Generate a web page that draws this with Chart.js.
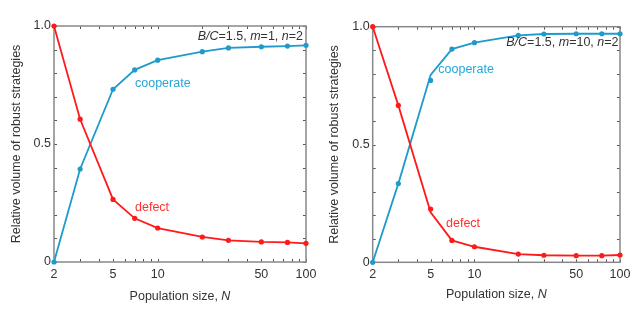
<!DOCTYPE html>
<html><head><meta charset="utf-8">
<script src="https://cdn.jsdelivr.net/npm/chart.js@4/dist/chart.umd.min.js"></script>
<style>
html,body{margin:0;padding:0;background:#fff;}
#wrap{position:relative;width:636px;height:315px;overflow:hidden;}
.panel{position:absolute;top:0;width:318px;height:315px;}
</style></head><body>
<div id="wrap">
<div class="panel" style="left:0"><canvas id="c1" width="318" height="315"></canvas></div>
<div class="panel" style="left:318px"><canvas id="c2" width="318" height="315"></canvas></div>
</div>
<script>
// ---- data ----
const populationSizes = [2, 3, 5, 7, 10, 20, 30, 50, 75, 100];

// panel 1: B/C=1.5, m=1, n=2
const cooperateM1 = [0, 0.394, 0.732, 0.814, 0.855, 0.891, 0.907, 0.912, 0.915, 0.918];
const defectM1    = [1.0, 0.605, 0.265, 0.185, 0.144, 0.106, 0.092, 0.085, 0.083, 0.079];

// panel 2: B/C=1.5, m=10, n=2 (line and markers differ slightly at N=5)
const cooperateM10Points = [0, 0.334, 0.772, 0.905, 0.932, 0.963, 0.969, 0.970, 0.970, 0.970];
const cooperateM10Line   = [0, 0.334, 0.795, 0.905, 0.932, 0.963, 0.969, 0.970, 0.970, 0.970];
const defectM10Points    = [1.0, 0.666, 0.226, 0.093, 0.066, 0.035, 0.030, 0.028, 0.028, 0.031];
const defectM10Line      = [1.0, 0.666, 0.212, 0.093, 0.066, 0.035, 0.030, 0.028, 0.028, 0.031];

const xTickLabels = [2, 5, 10, 50, 100];
const xMinorTicks = [3, 4, 6, 7, 8, 9, 20, 30, 40, 60, 70, 80, 90];
const yTickLabels = [0, 0.5, 1.0];
const yMinorTicks = [0.1, 0.2, 0.3, 0.4, 0.6, 0.7, 0.8, 0.9];

const xTitle = 'Population size, ';
const xTitleItalic = 'N';
const yTitle = 'Relative volume of robust strategies';

const BLUE = '#1f9bcb';
const RED = '#ff1a1a';
const BLUE_TXT = '#27a6d6';
const RED_TXT = '#ff3030';
const TXT = '#333333';
const FONT = '"Liberation Sans", Arial, sans-serif';
const FS = 12.5;

// ---- plugins ----
const framePlugin = {
  id: 'frame',
  beforeDatasetsDraw(chart) {
    const {ctx, chartArea: a, scales: {x, y}} = chart;
    ctx.save();
    ctx.strokeStyle = '#555';
    ctx.lineWidth = 1;
    const tl = 3;
    const allX = xTickLabels.concat(xMinorTicks);
    allX.forEach(v => {
      const px = Math.round(x.getPixelForValue(v)) + 0.5;
      ctx.beginPath();
      ctx.moveTo(px, a.bottom); ctx.lineTo(px, a.bottom - tl);
      ctx.moveTo(px, a.top); ctx.lineTo(px, a.top + tl);
      ctx.stroke();
    });
    const allY = yTickLabels.concat(yMinorTicks);
    allY.forEach(v => {
      const py = Math.round(y.getPixelForValue(v)) + 0.5;
      ctx.beginPath();
      ctx.moveTo(a.left, py); ctx.lineTo(a.left + tl, py);
      ctx.moveTo(a.right, py); ctx.lineTo(a.right - tl, py);
      ctx.stroke();
    });
    ctx.strokeStyle = '#888';
    ctx.lineWidth = 1.5;
    ctx.strokeRect(a.left, a.top, a.right - a.left, a.bottom - a.top);
    ctx.restore();
  }
};

function drawRuns(ctx, runs, x, y, align) {
  let total = 0;
  runs.forEach(r => { ctx.font = (r.i ? 'italic ' : '') + FS + 'px ' + FONT; r.w = ctx.measureText(r.t).width; total += r.w; });
  let cx = align === 'right' ? x - total : (align === 'center' ? x - total / 2 : x);
  runs.forEach(r => { ctx.font = (r.i ? 'italic ' : '') + FS + 'px ' + FONT; ctx.fillText(r.t, cx, y); cx += r.w; });
}

const textPlugin = {
  id: 'texts',
  afterDraw(chart, args, opts) {
    const {ctx, chartArea: a} = chart;
    ctx.save();
    ctx.textBaseline = 'middle';
    ctx.textAlign = 'left';
    (opts.items || []).forEach(it => {
      ctx.fillStyle = it.color;
      drawRuns(ctx, it.runs, it.x, it.y, it.align);
    });
    // axis titles
    ctx.fillStyle = TXT;
    drawRuns(ctx, [{t: xTitle}, {t: xTitleItalic, i: true}], (a.left + a.right) / 2, opts.xTitleY, 'center');
    ctx.translate(opts.yTitleX, (a.top + a.bottom) / 2);
    ctx.rotate(-Math.PI / 2);
    drawRuns(ctx, [{t: yTitle}], 0, 0, 'center');
    ctx.restore();
  }
};

function makeChart(id, lineCoop, ptsCoop, lineDef, ptsDef, pad, items, xTitleY, yTitleX) {
  const ds = (data, color, line) => ({
    data: populationSizes.map((n, i) => ({x: n, y: data[i]})),
    borderColor: color, backgroundColor: color,
    borderWidth: line ? 1.8 : 0,
    showLine: line,
    pointRadius: line ? 0 : 2.6,
    pointHoverRadius: 0,
    pointBorderWidth: 0,
    tension: 0,
    clip: false
  });
  return new Chart(document.getElementById(id), {
    type: 'line',
    data: {
      datasets: [
        ds(ptsDef, RED, false),
        ds(lineDef, RED, true),
        ds(ptsCoop, BLUE, false),
        ds(lineCoop, BLUE, true)
      ]
    },
    options: {
      responsive: false,
      animation: false,
      events: [],
      layout: {padding: {left: 0, right: pad.right, top: pad.top, bottom: 0}},
      plugins: {legend: {display: false}, tooltip: {enabled: false}, texts: {items, xTitleY, yTitleX}},
      scales: {
        x: {
          type: 'logarithmic', min: 2, max: 100,
          grid: {display: false, drawTicks: false},
          border: {display: false},
          afterBuildTicks: s => { s.ticks = xTickLabels.map(v => ({value: v})); },
          afterFit: s => { s.height = pad.xh; s.paddingLeft = s.paddingRight = 0; },
          ticks: {callback: v => String(v), color: TXT, font: {family: FONT, size: FS}, padding: 5, maxRotation: 0, autoSkip: false}
        },
        y: {
          type: 'linear', min: 0, max: 1,
          grid: {display: false, drawTicks: false},
          border: {display: false},
          afterBuildTicks: s => { s.ticks = yTickLabels.map(v => ({value: v})); },
          afterFit: s => { s.width = pad.yw; s.paddingTop = s.paddingBottom = 0; },
          ticks: {callback: v => v === 0 ? '0' : v.toFixed(1), color: TXT, font: {family: FONT, size: FS}, padding: 3}
        }
      }
    },
    plugins: [framePlugin, textPlugin]
  });
}

makeChart('c1', cooperateM1, cooperateM1, defectM1, defectM1,
  {right: 12, top: 26, xh: 53, yw: 54},
  [
    {runs: [{t: 'B/C', i: true}, {t: '=1.5, '}, {t: 'm', i: true}, {t: '=1, '}, {t: 'n', i: true}, {t: '=2'}], x: 303, y: 37, align: 'right', color: TXT},
    {runs: [{t: 'cooperate'}], x: 135, y: 83.5, align: 'left', color: BLUE_TXT},
    {runs: [{t: 'defect'}], x: 135, y: 207.5, align: 'left', color: RED_TXT}
  ], 296.5, 16.5);

makeChart('c2', cooperateM10Line, cooperateM10Points, defectM10Line, defectM10Points,
  {right: 16, top: 26.7, xh: 52.7, yw: 54.7},
  [
    {runs: [{t: 'B/C', i: true}, {t: '=1.5, '}, {t: 'm', i: true}, {t: '=10, '}, {t: 'n', i: true}, {t: '=2'}], x: 300.5, y: 43, align: 'right', color: TXT},
    {runs: [{t: 'cooperate'}], x: 120.3, y: 70, align: 'left', color: BLUE_TXT},
    {runs: [{t: 'defect'}], x: 128, y: 224, align: 'left', color: RED_TXT}
  ], 294.5, 16.5);
</script>
</body></html>
